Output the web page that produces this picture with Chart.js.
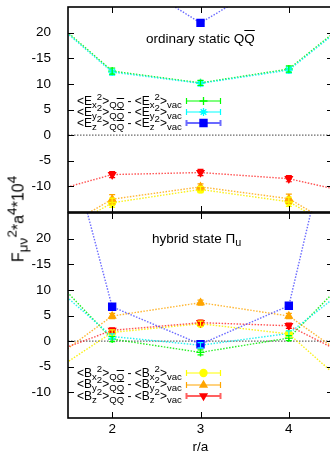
<!DOCTYPE html>
<html>
<head>
<meta charset="utf-8">
<script src="https://cdn.jsdelivr.net/npm/chart.js@4.4.1/dist/chart.umd.min.js"></script>
<style>
  html, body { margin: 0; padding: 0; background: #fff; }
  body { width: 330px; height: 458px; overflow: hidden; position: relative; font-family: "Liberation Sans", Arial, sans-serif; color: #000; }
  canvas { position: absolute; left: 0; }
  #graficoSup { top: 0; }
  #graficoInf { top: 212px; }
  .t { position: absolute; white-space: nowrap; font-size: 12px; line-height: 12px; z-index: 2; }
  .g { font-size: 13.5px; line-height: 16px; }
  .sb { font-size: 0.8em; position: relative; top: 0.3em; }
  .sp { font-size: 0.8em; position: relative; top: -0.5em; }
  .ov { text-decoration: overline; }
  #tituloY { left: 19px; top: 219px; font-size: 16px; line-height: 18px; transform: translate(-50%, -50%) rotate(-90deg); }
  #tituloY .sb, #tituloY .sp { font-size: 0.85em; }
</style>
</head>
<body>
<canvas id="graficoSup" width="340" height="213"></canvas>
<canvas id="graficoInf" width="340" height="246"></canvas>

<div class="t g" style="left:146px;top:31px">ordinary static Q<span class="ov">Q</span></div>
<div class="t" style="left:77px;top:95px">&lt;E<span class="sb">x</span><span class="sp">2</span>&gt;<span class="sb">Q<span class="ov">Q</span></span> - &lt;E<span class="sb">x</span><span class="sp">2</span>&gt;<span class="sb">vac</span></div>
<div class="t" style="left:77px;top:106px">&lt;E<span class="sb">y</span><span class="sp">2</span>&gt;<span class="sb">Q<span class="ov">Q</span></span> - &lt;E<span class="sb">y</span><span class="sp">2</span>&gt;<span class="sb">vac</span></div>
<div class="t" style="left:77px;top:117px">&lt;E<span class="sb">z</span><span class="sp">2</span>&gt;<span class="sb">Q<span class="ov">Q</span></span> - &lt;E<span class="sb">z</span><span class="sp">2</span>&gt;<span class="sb">vac</span></div>

<div class="t g" style="left:152px;top:231px">hybrid state &Pi;<span class="sb">u</span></div>
<div class="t" style="left:77px;top:367px">&lt;B<span class="sb">x</span><span class="sp">2</span>&gt;<span class="sb">Q<span class="ov">Q</span></span> - &lt;B<span class="sb">x</span><span class="sp">2</span>&gt;<span class="sb">vac</span></div>
<div class="t" style="left:77px;top:378px">&lt;B<span class="sb">y</span><span class="sp">2</span>&gt;<span class="sb">Q<span class="ov">Q</span></span> - &lt;B<span class="sb">y</span><span class="sp">2</span>&gt;<span class="sb">vac</span></div>
<div class="t" style="left:77px;top:390px">&lt;B<span class="sb">z</span><span class="sp">2</span>&gt;<span class="sb">Q<span class="ov">Q</span></span> - &lt;B<span class="sb">z</span><span class="sp">2</span>&gt;<span class="sb">vac</span></div>

<div id="tituloY" class="t">F<span class="sb">&mu;&nu;</span><span class="sp">2</span>*a<span class="sp">4</span>*10<span class="sp">4</span></div>

<script>
// Valores de r/a y rótulos de los ejes.
const rValores = [1, 2, 3, 4, 5];
const xTicks = [2, 3, 4];
const yTicks = [-10, -5, 0, 5, 10, 15, 20];
const yRotulos = ['-10', '-5', '0', '5', '10', '-15', '20'];

// Panel superior: QQbar estático ordinario.
const ordEx = [27.5, 12.5, 10.2, 12.9, 26.8];
const ordEy = [27.2, 12.3, 10.1, 12.7, 26.5];
const ordEz = [45.0, 32.6, 21.9, 32.2, 45.0];
const ordBx = [-23.0, -13.2, -10.6, -13.0, -23.0];
const ordBy = [-22.5, -12.5, -10.1, -12.4, -22.5];
const ordBz = [-12.5, -7.7, -7.3, -8.5, -12.4];
const ordErrE = [0.6, 0.6, 0.5, 0.6, 0.6];
const ordErrEz = [0.6, 0.6, 0.5, 0.6, 0.6];
const ordErrB = [0.9, 0.9, 0.6, 0.9, 0.9];
const ordErrBz = [0.6, 0.6, 0.6, 0.6, 0.6];

// Panel inferior: estado híbrido Pi_u.
const hibEx = [18.4, 0.4, -2.2, 0.6, 18.2];
const hibEy = [15.9, 0.9, -0.8, 1.5, 15.0];
const hibEz = [72.0, 6.7, -0.6, 6.9, 80.0];
const hibBx = [-9.7, 1.7, 3.4, 1.4, -13.8];
const hibBy = [-7.7, 4.9, 7.5, 4.9, -7.3];
const hibBz = [-4.3, 2.1, 3.6, 3.0, -5.7];
const hibErr = [0.5, 0.5, 0.5, 0.5, 0.5];

// Estilos de cada serie (color de marca, color de la línea punteada, forma).
const ESTILOS = {
    ex: { color: '#00ff00', linea: 'rgba(0,235,0,0.85)', punto: 'cross', radio: 4 },
    ey: { color: '#00ffff', linea: 'rgba(0,240,240,0.85)', punto: 'star', radio: 4 },
    ez: { color: '#0000ff', linea: 'rgba(70,70,255,0.8)', punto: 'rect', radio: 5 },
    bx: { color: '#ffff00', linea: 'rgba(250,240,0,0.9)', punto: 'circle', radio: 3.5 },
    by: { color: '#ffa500', linea: 'rgba(255,165,0,0.8)', punto: 'triangle', radio: 4 },
    bz: { color: '#ff0000', linea: 'rgba(255,40,40,0.8)', punto: 'triangle', radio: 4, rot: 180 }
};

const FUENTE = { family: 'Liberation Sans', size: 13.5 };

// Crea un conjunto de datos a partir de los arreglos de valores y errores.
const serie = (valores, errores, estilo) => ({
    data: rValores.map((r, i) => ({ x: r, y: valores[i] })),
    errores: errores,
    borderColor: estilo.linea,
    borderWidth: 1.4,
    borderDash: [1.5, 1.5],
    pointStyle: estilo.punto,
    pointRadius: estilo.radio,
    pointRotation: estilo.rot || 0,
    pointBackgroundColor: estilo.color,
    pointBorderColor: estilo.color,
    pointBorderWidth: 1.3,
    tension: 0,
    clip: 0
});

// Quita el relleno automático que Chart.js agrega para los rótulos extremos.
const sinRelleno = s => {
    s.paddingTop = 0;
    s.paddingBottom = 0;
    s.paddingLeft = 0;
    s.paddingRight = 0;
};

// Plugin: eje cero, barras de error, marco con marcas y muestras de la leyenda.
const marco = {
    id: 'marco',
    beforeDatasetsDraw(chart) {
        const { ctx, chartArea: a } = chart;
        const y0 = chart.scales.y.getPixelForValue(0);
        ctx.save();
        ctx.strokeStyle = '#6a6a6a';
        ctx.lineWidth = 1.3;
        ctx.setLineDash([1.5, 1.5]);
        ctx.beginPath();
        ctx.moveTo(a.left, y0);
        ctx.lineTo(a.right, y0);
        ctx.stroke();
        ctx.restore();
    },
    afterDatasetsDraw(chart) {
        const { ctx, chartArea: a } = chart;
        const y = chart.scales.y;
        ctx.save();
        ctx.beginPath();
        ctx.rect(a.left, a.top, a.right - a.left, a.bottom - a.top);
        ctx.clip();
        chart.data.datasets.forEach((ds, k) => {
            const meta = chart.getDatasetMeta(k);
            ctx.strokeStyle = ds.pointBorderColor;
            ctx.lineWidth = 1.2;
            ctx.beginPath();
            meta.data.forEach((pt, i) => {
                const v = ds.data[i].y, e = ds.errores[i];
                const y1 = y.getPixelForValue(v - e), y2 = y.getPixelForValue(v + e);
                ctx.moveTo(pt.x, y1); ctx.lineTo(pt.x, y2);
                ctx.moveTo(pt.x - 3, y1); ctx.lineTo(pt.x + 3, y1);
                ctx.moveTo(pt.x - 3, y2); ctx.lineTo(pt.x + 3, y2);
            });
            ctx.stroke();
        });
        ctx.restore();
    },
    afterDraw(chart, args, opts) {
        const { ctx, chartArea: a } = chart;
        const x = chart.scales.x, y = chart.scales.y;
        ctx.save();
        ctx.strokeStyle = '#000';
        ctx.lineWidth = 1.6;
        ctx.strokeRect(a.left, a.top, a.right - a.left, a.bottom - a.top);
        ctx.lineWidth = 1;
        ctx.beginPath();
        yTicks.forEach(v => {
            const py = Math.round(y.getPixelForValue(v)) + 0.5;
            ctx.moveTo(a.left, py); ctx.lineTo(a.left + 6, py);
            ctx.moveTo(a.right, py); ctx.lineTo(a.right - 6, py);
        });
        xTicks.forEach(v => {
            const px = Math.round(x.getPixelForValue(v)) + 0.5;
            ctx.moveTo(px, a.top); ctx.lineTo(px, a.top + 6);
            ctx.moveTo(px, a.bottom); ctx.lineTo(px, a.bottom - 6);
        });
        ctx.stroke();
        // Muestras de la leyenda.
        (opts.leyenda || []).forEach(item => {
            const e = item.estilo;
            ctx.strokeStyle = item.linea || e.color;
            ctx.lineWidth = item.ancho || 1.2;
            ctx.beginPath();
            ctx.moveTo(186, item.y); ctx.lineTo(221, item.y);
            ctx.moveTo(186.5, item.y - 3); ctx.lineTo(186.5, item.y + 3);
            ctx.moveTo(220.5, item.y - 3); ctx.lineTo(220.5, item.y + 3);
            ctx.stroke();
            ctx.fillStyle = e.color;
            ctx.strokeStyle = e.color;
            ctx.lineWidth = 1.3;
            Chart.helpers.drawPoint(ctx, {
                pointStyle: e.punto, radius: e.radio, rotation: e.rot || 0, borderWidth: 1.3
            }, 203.5, item.y);
        });
        ctx.restore();
    }
};

// Opciones comunes para ambos paneles.
const opciones = (inferior, leyenda) => ({
    responsive: false,
    animation: false,
    devicePixelRatio: 1,
    layout: {
        autoPadding: false,
        padding: { left: 0, right: 7, top: inferior ? 1 : 7, bottom: inferior ? 0 : 1 }
    },
    plugins: {
        legend: { display: false },
        tooltip: { enabled: false },
        marco: { leyenda: leyenda }
    },
    scales: {
        x: {
            type: 'linear', min: 1.5, max: 4.5,
            display: inferior,
            afterBuildTicks: s => { s.ticks = xTicks.map(v => ({ value: v })); },
            afterFit: s => { sinRelleno(s); if (inferior) s.height = 40; },
            grid: { display: false },
            border: { display: false },
            ticks: { color: '#000', font: FUENTE, padding: -5 },
            title: { display: true, text: 'r/a', color: '#000', font: FUENTE, padding: { top: 0, bottom: 3 } }
        },
        y: {
            type: 'linear', min: -15, max: 25,
            afterBuildTicks: s => { s.ticks = yTicks.map(v => ({ value: v })); },
            afterFit: s => { sinRelleno(s); s.width = 68; },
            grid: { display: false },
            border: { display: false },
            ticks: { color: '#000', font: FUENTE, padding: 9, callback: v => yRotulos[yTicks.indexOf(v)] }
        }
    }
});

new Chart(document.getElementById('graficoSup'), {
    type: 'line',
    data: {
        datasets: [
            serie(ordEz, ordErrEz, ESTILOS.ez),
            serie(ordEy, ordErrE, ESTILOS.ey),
            serie(ordEx, ordErrE, ESTILOS.ex),
            serie(ordBz, ordErrBz, ESTILOS.bz),
            serie(ordBy, ordErrB, ESTILOS.by),
            serie(ordBx, ordErrB, ESTILOS.bx)
        ]
    },
    options: opciones(false, [
        { y: 101, estilo: ESTILOS.ex },
        { y: 112, estilo: ESTILOS.ey },
        { y: 123, estilo: ESTILOS.ez, linea: '#6a6aff', ancho: 2 }
    ]),
    plugins: [marco]
});

new Chart(document.getElementById('graficoInf'), {
    type: 'line',
    data: {
        datasets: [
            serie(hibEz, hibErr, ESTILOS.ez),
            serie(hibBz, hibErr, ESTILOS.bz),
            serie(hibBy, hibErr, ESTILOS.by),
            serie(hibBx, hibErr, ESTILOS.bx),
            serie(hibEy, hibErr, ESTILOS.ey),
            serie(hibEx, hibErr, ESTILOS.ex)
        ]
    },
    options: opciones(true, [
        { y: 161, estilo: ESTILOS.bx },
        { y: 173, estilo: ESTILOS.by },
        { y: 184, estilo: ESTILOS.bz, linea: '#ff6060', ancho: 2 }
    ]),
    plugins: [marco]
});
</script>
</body>
</html>
